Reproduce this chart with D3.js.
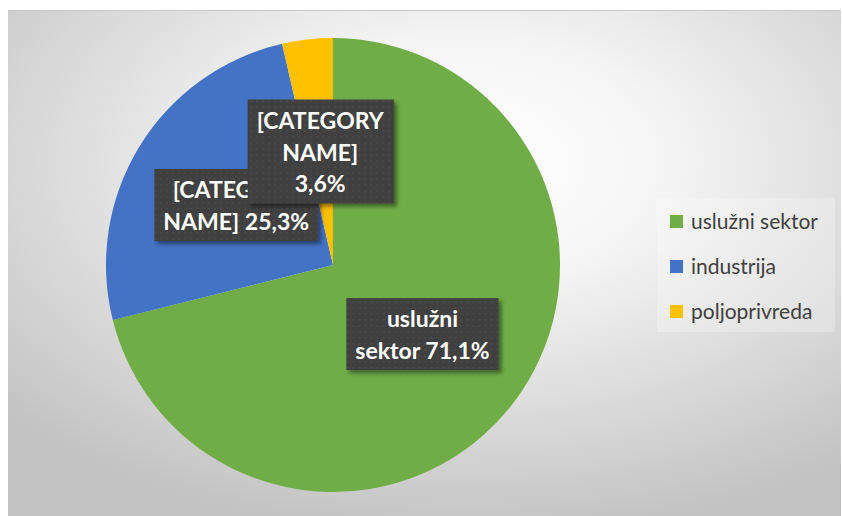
<!DOCTYPE html>
<html>
<head>
<meta charset="utf-8">
<script src="https://cdn.jsdelivr.net/npm/d3@7"></script>
<style>
  body { margin: 0; background: #ffffff; }
  svg { display: block; }
</style>
</head>
<body>
<svg></svg>
<script>
// data
const categories = ["uslužni sektor", "industrija", "poljoprivreda"];
const values = [71.1, 25.3, 3.6];
const colors = ["#70AD47", "#4472C4", "#FFC000"];
// data label lines as shown in the chart
const labelLines = [
    ["uslužni", "sektor 71,1%"],
    ["[CATEGORY", "NAME] 25,3%"],
    ["[CATEGORY", "NAME]", "3,6%"]
];

const width = 842;
const height = 516;

const svg = d3.select("svg")
    .attr("width", width)
    .attr("height", height);

const defs = svg.append("defs");

// chart area background: light radial gradient
const grad = defs.append("radialGradient")
    .attr("id", "bg")
    .attr("cx", "0.55").attr("cy", "0.3")
    .attr("r", "0.75");
grad.append("stop").attr("offset", "0").attr("stop-color", "#ffffff");
grad.append("stop").attr("offset", "0.3").attr("stop-color", "#f6f6f6");
grad.append("stop").attr("offset", "1").attr("stop-color", "#c2c2c2");

// dotted texture for data labels
const pat = defs.append("pattern")
    .attr("id", "dots")
    .attr("width", 6).attr("height", 6)
    .attr("patternUnits", "userSpaceOnUse");
pat.append("rect").attr("width", 6).attr("height", 6).attr("fill", "#404040");
pat.append("circle").attr("cx", 3).attr("cy", 3).attr("r", 1).attr("fill", "#4b4b4b");

const shadow = defs.append("filter")
    .attr("id", "shadow")
    .attr("x", "-20%").attr("y", "-20%")
    .attr("width", "150%").attr("height", "150%");
shadow.append("feDropShadow")
    .attr("dx", 3).attr("dy", 3)
    .attr("stdDeviation", 2)
    .attr("flood-color", "#000")
    .attr("flood-opacity", 0.45);

const area = { x: 8, y: 10, w: 833, h: 506 };

svg.append("rect")
    .attr("x", area.x).attr("y", area.y)
    .attr("width", area.w).attr("height", area.h)
    .attr("fill", "url(#bg)");

svg.append("line")
    .attr("x1", area.x).attr("x2", area.x + area.w)
    .attr("y1", area.y + 0.5).attr("y2", area.y + 0.5)
    .attr("stroke", "#c8c8c8");

// pie
const cx = 333, cy = 265, radius = 227;

const pie = d3.pie().sort(null).value(d => d.value);
const arcs = pie(categories.map((c, i) => ({ name: c, value: values[i], i })));

const arc = d3.arc().innerRadius(0).outerRadius(radius);

const g = svg.append("g")
    .attr("transform", `translate(${cx},${cy})`);

g.selectAll("path.slice")
    .data(arcs)
    .enter()
    .append("path")
    .attr("class", "slice")
    .attr("d", arc)
    .attr("fill", d => colors[d.data.i]);

// data labels, drawn so the small slice label sits on top
const lineH = 32;
const labelFont = "Lato, 'Open Sans', sans-serif";

arcs.forEach(d => {
    const [lx, ly] = arc.centroid(d);
    const lines = labelLines[d.data.i];
    const lg = g.append("g")
        .attr("transform", `translate(${lx},${ly})`);

    const box = lg.append("rect")
        .attr("fill", "url(#dots)")
        .attr("filter", "url(#shadow)");

    const txt = lg.append("text")
        .attr("text-anchor", "middle")
        .style("font-family", labelFont)
        .style("font-weight", "bold")
        .style("font-size", "23px")
        .style("fill", "#ffffff");

    const top = -(lines.length - 1) * lineH / 2;
    lines.forEach((t, k) => {
        txt.append("tspan")
            .attr("x", 0)
            .attr("y", top + k * lineH)
            .attr("dy", "0.36em")
            .text(t);
    });

    const bb = txt.node().getBBox();
    const padX = 9, padY = 6;
    box.attr("x", bb.x - padX)
        .attr("y", bb.y - padY)
        .attr("width", bb.width + padX * 2)
        .attr("height", bb.height + padY * 2);
});

// legend
const legend = svg.append("g")
    .attr("transform", "translate(657, 198)");

legend.append("rect")
    .attr("width", 178)
    .attr("height", 134)
    .attr("fill", "#ffffff")
    .attr("opacity", 0.25);

const rowY = d3.scalePoint()
    .domain(categories)
    .range([24, 114]);

const item = legend.selectAll("g.item")
    .data(categories)
    .enter()
    .append("g")
    .attr("class", "item")
    .attr("transform", d => `translate(13, ${rowY(d)})`);

item.append("rect")
    .attr("y", -7)
    .attr("width", 13)
    .attr("height", 13)
    .attr("fill", (d, i) => colors[i]);

item.append("text")
    .attr("x", 21)
    .attr("dy", "0.35em")
    .style("font-family", labelFont)
    .style("font-size", "21px")
    .style("fill", "#404040")
    .text(d => d);
</script>
</body>
</html>
